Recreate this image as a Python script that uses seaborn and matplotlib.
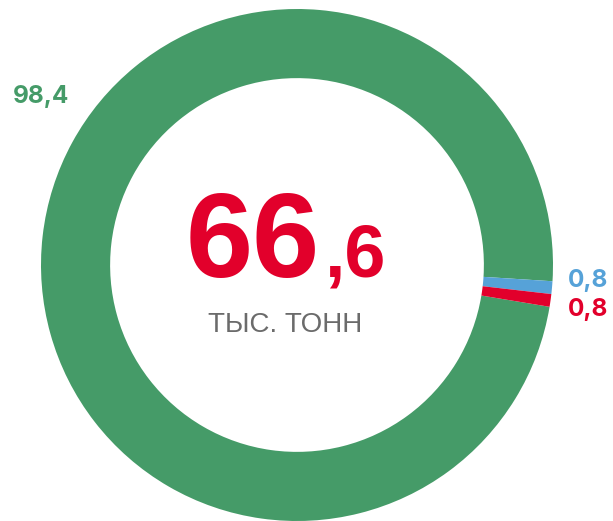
import matplotlib
matplotlib.use("Agg")
import matplotlib.pyplot as plt
import seaborn as sns

# Data
categories = ["Прочее", "Синий", "Красный"]
shares = [98.4, 0.8, 0.8]
share_labels = ["98,4", "0,8", "0,8"]
total_int = "66"
total_frac = ",6"
unit_label = "ТЫС. ТОНН"

sns.set_theme(style="white")
plt.rcParams["font.family"] = ["Liberation Sans", "DejaVu Sans"]

colors = ["#459b68", "#56a2d8", "#e2002b"]

W, H = 613, 521
fig = plt.figure(figsize=(W / 100, H / 100), dpi=100)
ax = fig.add_axes([0, 0, 1, 1])

cx, cy, R = 297, 265, 256  # pixel center (from top) and outer radius
ax.pie(shares, colors=colors, startangle=-9.4, counterclock=False,
       radius=1.0, wedgeprops=dict(width=0.27, edgecolor="none", linewidth=0))
ax.set_aspect("auto")
ax.set_xlim(-cx / R, (W - cx) / R)
ax.set_ylim(-(H - cy) / R, cy / R)
ax.axis("off")

def fx(x):
    return x / W

def fy(y):
    return 1 - y / H

lab_font = ["Inter", "Liberation Sans"]
fig.text(fx(41), fy(103), share_labels[0], color=colors[0], fontsize=17.5,
         fontweight="bold", ha="center", va="baseline", family=lab_font)
fig.text(fx(588), fy(287), share_labels[1], color=colors[1], fontsize=17.5,
         fontweight="bold", ha="center", va="baseline", family=lab_font)
fig.text(fx(588), fy(316), share_labels[2], color=colors[2], fontsize=17.5,
         fontweight="bold", ha="center", va="baseline", family=lab_font)

fig.text(fx(320), fy(277), total_int, color=colors[2], fontsize=87,
         fontweight="bold", ha="right", va="baseline")
fig.text(fx(324), fy(277), total_frac, color=colors[2], fontsize=53,
         fontweight="bold", ha="left", va="baseline")
fig.text(fx(285), fy(332), unit_label, color="#6b6b6b", fontsize=20,
         ha="center", va="baseline")

fig.savefig("out.png", dpi=100, facecolor="white")
